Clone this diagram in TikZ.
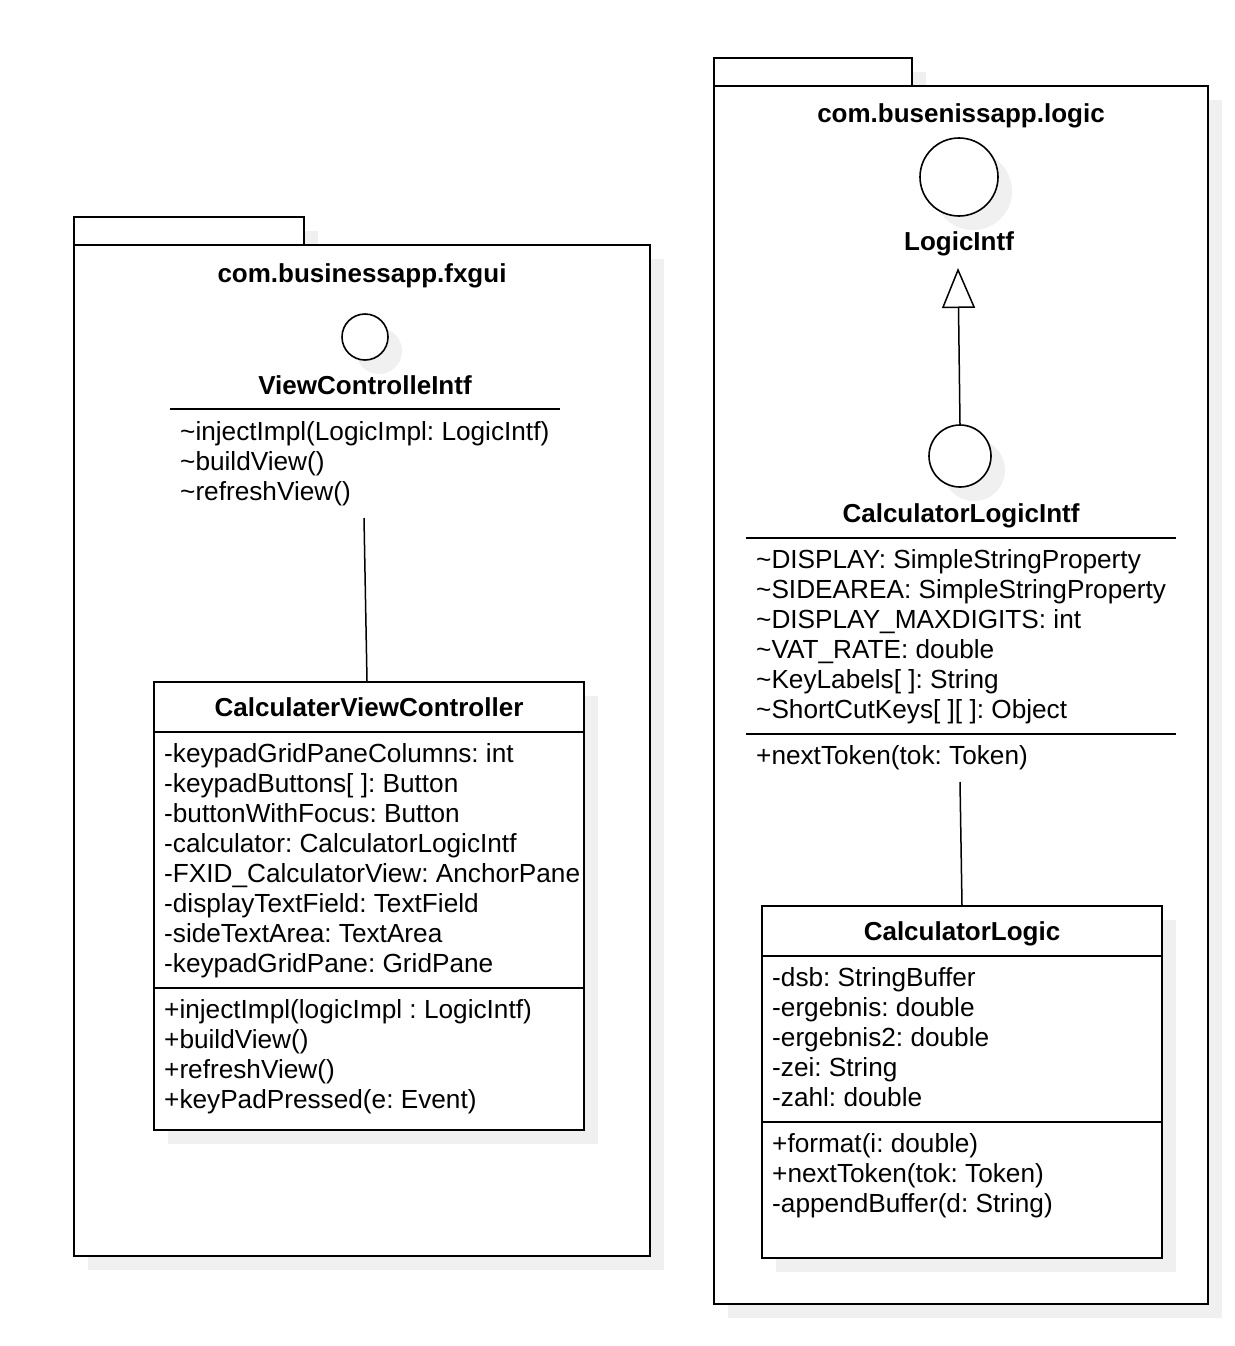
\documentclass[tikz,border=0pt]{standalone}
\usepackage{fontspec}
\setmainfont{Liberation Sans}
\usetikzlibrary{arrows.meta}
\definecolor{shade}{gray}{0.94}
\frenchspacing
\begin{document}
\begin{tikzpicture}[x=1pt,y=-1pt,
  every node/.style={inner sep=0pt, font=\fontsize{26.2}{30}\selectfont},
  txt/.style={anchor=base west},
  ttl/.style={anchor=base, font=\fontsize{26}{30}\selectfont\bfseries},
  outline/.style={draw=black, line width=1.8pt, fill=white},
  shadowfill/.style={fill=shade, draw=none},
  conn/.style={draw=black, line width=1.5pt},
  iface/.style={circle, draw=black, line width=1.6pt, fill=white},
  sep/.style={draw=black, line width=1.8pt},
]
\useasboundingbox (0,0) rectangle (1234,1346);

% ---------------- left package ----------------
\fill[shadowfill] (88,231) rectangle (318,259);
\fill[shadowfill] (88,259) rectangle (664,1270);
\draw[outline] (74,217) rectangle (304,245);
\draw[outline] (74,245) rectangle (650,1256);
\node[ttl] (pkgL) at (362,282) {com.businessapp.fxgui};

% ViewControlleIntf
\fill[shadowfill] (379,351) circle (23);
\node[iface, minimum size=46pt] (vci) at (365,337) {};
\node[ttl] (vciName) at (365,394) {ViewControlleIntf};
\draw[sep] (170,409) -- (560,409);
\node[txt] (vciM1) at (180,440) {\textasciitilde injectImpl(LogicImpl: LogicIntf)};
\node[txt] (vciM2) at (180,470) {\textasciitilde buildView()};
\node[txt] (vciM3) at (180,500) {\textasciitilde refreshView()};
\coordinate (vciEnd) at (364,518);

% CalculaterViewController
\fill[shadowfill] (168,696) rectangle (598,1144);
\node[outline, minimum width=430pt, minimum height=448pt] (cvc) at (369,906) {};
\node[ttl] (cvcName) at (369,716) {CalculaterViewController};
\draw[sep] (cvc.west |- 0,732) -- (cvc.east |- 0,732);
\foreach \t [count=\i from 0] in {
  {-keypadGridPaneColumns: int},
  {-keypadButtons[ ]: Button},
  {-buttonWithFocus: Button},
  {-calculator: CalculatorLogicIntf},
  {-FXID\_CalculatorView: AnchorPane},
  {-displayTextField: TextField},
  {-sideTextArea: TextArea},
  {-keypadGridPane: GridPane}}
  \node[txt] (cvcA\i) at (164,762+30*\i) {\t};
\draw[sep] (cvc.west |- 0,988) -- (cvc.east |- 0,988);
\foreach \t [count=\i from 0] in {
  {+injectImpl(logicImpl : LogicIntf)},
  {+buildView()},
  {+refreshView()},
  {+keyPadPressed(e: Event)}}
  \node[txt] (cvcM\i) at (164,1018+30*\i) {\t};

\draw[conn] (vciEnd) -- ([xshift=-2pt]cvc.north);

% ---------------- right package ----------------
\fill[shadowfill] (728,72) rectangle (926,100);
\fill[shadowfill] (728,100) rectangle (1222,1318);
\draw[outline] (714,58) rectangle (912,86);
\draw[outline] (714,86) rectangle (1208,1304);
\node[ttl] (pkgR) at (961,122) {com.busenissapp.logic};

% LogicIntf
\fill[shadowfill] (973,191) circle (39);
\node[iface, minimum size=78pt] (li) at (959,177) {};
\node[ttl] (liName) at (959,250) {LogicIntf};
\coordinate (liTip) at (958,268);

% CalculatorLogicIntf
\fill[shadowfill] (974,470) circle (31);
\node[iface, minimum size=62pt] (cli) at (960,456) {};
\node[ttl] (cliName) at (961,522) {CalculatorLogicIntf};
\draw[sep] (746,538) -- (1176,538);
\foreach \t [count=\i from 0] in {
  {\textasciitilde DISPLAY: SimpleStringProperty},
  {\textasciitilde SIDEAREA: SimpleStringProperty},
  {\textasciitilde DISPLAY\_MAXDIGITS: int},
  {\textasciitilde VAT\_RATE: double},
  {\textasciitilde KeyLabels[ ]: String},
  {\textasciitilde ShortCutKeys[ ][ ]: Object}}
  \node[txt] (cliA\i) at (756,568+30*\i) {\t};
\draw[sep] (746,734) -- (1176,734);
\node[txt] (cliM0) at (756,764) {+nextToken(tok: Token)};
\coordinate (cliEnd) at (960,782);

\draw[conn, -{Triangle[open, length=40pt, width=33pt, line width=1.5pt]}] (cli.north) -- (liTip);

% CalculatorLogic
\fill[shadowfill] (776,920) rectangle (1176,1272);
\node[outline, minimum width=400pt, minimum height=352pt] (cl) at (962,1082) {};
\node[ttl] (clName) at (962,940) {CalculatorLogic};
\draw[sep] (cl.west |- 0,956) -- (cl.east |- 0,956);
\foreach \t [count=\i from 0] in {
  {-dsb: StringBuffer},
  {-ergebnis: double},
  {-ergebnis2: double},
  {-zei: String},
  {-zahl: double}}
  \node[txt] (clA\i) at (772,986+30*\i) {\t};
\draw[sep] (cl.west |- 0,1122) -- (cl.east |- 0,1122);
\foreach \t [count=\i from 0] in {
  {+format(i: double)},
  {+nextToken(tok: Token)},
  {-appendBuffer(d: String)}}
  \node[txt] (clM\i) at (772,1152+30*\i) {\t};

\draw[conn] (cliEnd) -- (cl.north);
\end{tikzpicture}
\end{document}
